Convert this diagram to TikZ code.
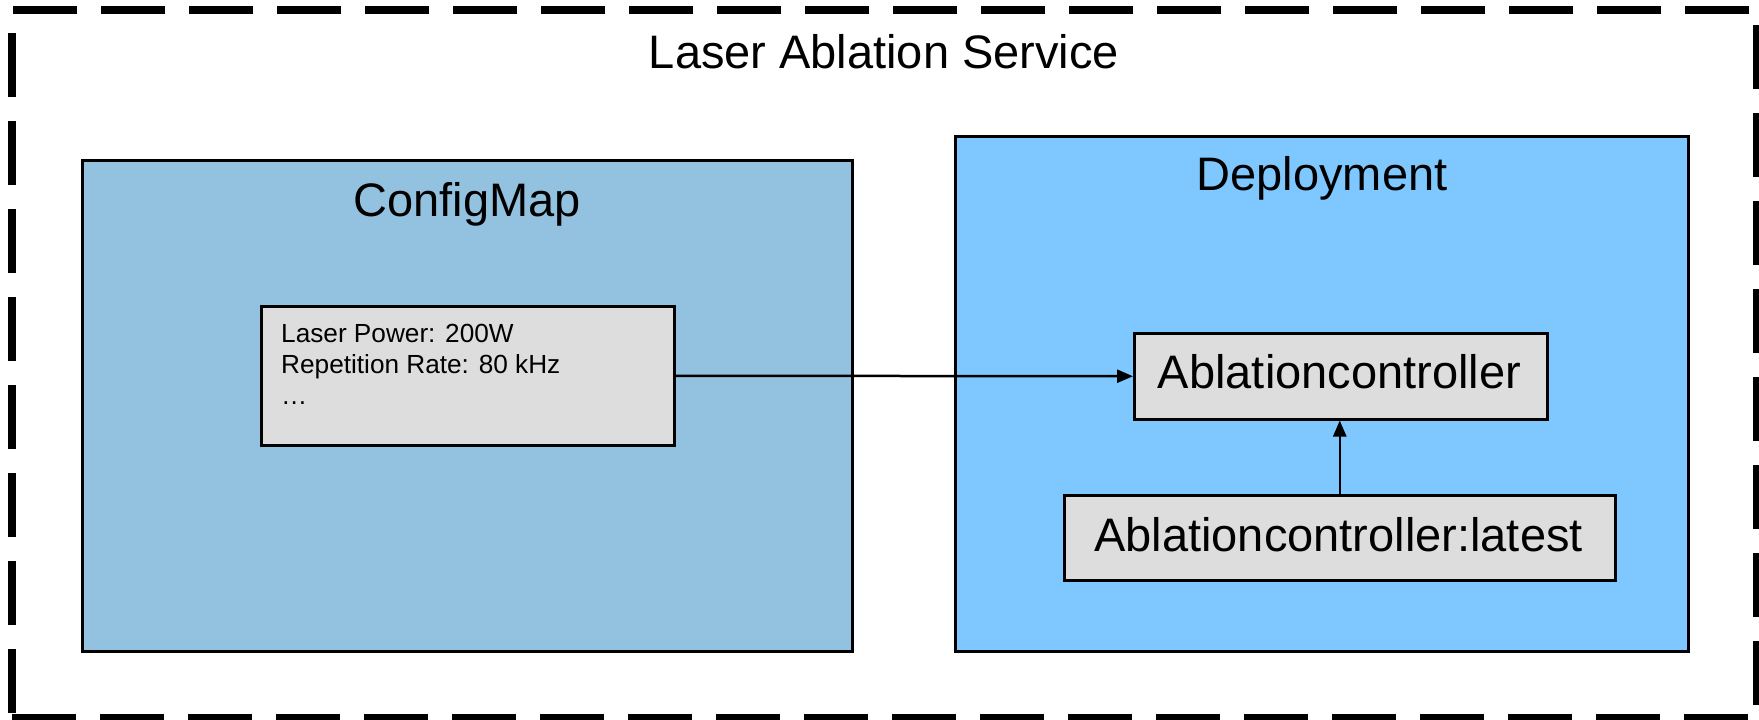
\documentclass[tikz,border=0pt]{standalone}
\usepackage{fontspec}
\setmainfont{Liberation Sans}
\usetikzlibrary{arrows.meta}
\definecolor{cfgblue}{RGB}{147,194,224}
\definecolor{depblue}{RGB}{127,200,255}
\definecolor{boxgray}{RGB}{221,221,221}
\tikzset{
  outerdash/.style={line width=8pt, dash pattern=on 64pt off 24pt, line cap=butt},
  panel/.style={draw=black, line width=2.5pt, rectangle, inner sep=0pt, anchor=north west},
  itembox/.style={draw=black, line width=2.5pt, fill=boxgray, rectangle, inner sep=0pt, anchor=north west},
  bigtext/.style={font=\fontsize{47}{56}\selectfont, inner sep=0pt, anchor=base},
  smalltext/.style={font=\fontsize{26.2}{31}\selectfont, inner sep=0pt, anchor=base west, align=left},
  link/.style={line width=2.5pt, -{Triangle[length=16pt,width=13pt]}}
}
\begin{document}
\begin{tikzpicture}[x=1pt, y=-1pt]
\useasboundingbox (0,0) rectangle (1759,720);

% dashed outline of the service
\draw[outerdash] (13,10) -- (1749,10);
\draw[outerdash] (12,718) -- (1748,718);
\draw[outerdash] (12,33) -- (12,713);
\draw[outerdash] (1757,25) -- (1757,705);
\node[bigtext] (svc) at (884,68) {Laser Ablation Service};

% ConfigMap panel
\node[panel, fill=cfgblue, minimum width=770pt, minimum height=491pt] (cfg) at (81,159) {};
\node[bigtext] (cfgtitle) at (467,216) {ConfigMap};
\node[itembox, minimum width=413pt, minimum height=139pt] (params) at (260,305) {};
% base of a multi-line node is the baseline of its last line
\node[smalltext] (paramstext) at (281,404) {Laser Power: 200W\\Repetition Rate: 80 kHz\\…};

% Deployment panel
\node[panel, fill=depblue, minimum width=733pt, minimum height=515pt] (dep) at (954,135) {};
\node[bigtext] (deptitle) at (1322,190) {Deployment};
\node[itembox, minimum width=413pt, minimum height=86pt] (ctrl) at (1133,332) {};
\node[bigtext] (ctrltext) at (1339.5,388) {Ablationcontroller};
\node[itembox, minimum width=551pt, minimum height=85pt] (latest) at (1063,494) {};
\node[bigtext] (latesttext) at (1338.5,551) {Ablationcontroller:latest};

% connectors
\draw[link] (params.east) -- (ctrl.west);
\draw[link] (latest.north) -- (latest.north |- ctrl.south);
\end{tikzpicture}
\end{document}
